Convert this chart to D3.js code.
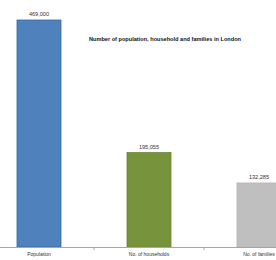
<!DOCTYPE html>
<html>
<head>
<meta charset="utf-8">
<script src="https://cdn.jsdelivr.net/npm/d3@7.9.0/dist/d3.min.js"></script>
<style>
  body { margin: 0; background: #fff; }
  svg { display: block; font-family: "Liberation Sans", Arial, sans-serif; }
</style>
</head>
<body>
<svg id="chart" width="276" height="260"></svg>
<script>
// chart data
const categories = ["Population", "No. of households", "No. of families"];
const values = [469000, 195055, 132285];
const barColors = ["#4f81bd", "#77933c", "#bfbfbf"];
const strokeColors = ["#3a679c", "#6a8434", "#b3b3b3"];
const title = "Number of population, household and families in London";

const svg = d3.select("#chart");
const baseY = 247;

// the original chart is cropped: the bands run past both edges
let x = d3.scaleBand()
    .domain(categories)
    .range([-16, 314])
    .paddingInner(0.6)
    .paddingOuter(0.3);

let y = d3.scaleLinear()
    .domain([0, 500000])
    .range([baseY, 5]);

// bars
svg.selectAll("rect.bar")
    .data(values)
    .enter()
    .append("rect")
    .attr("class", "bar")
    .attr("x", (d, i) => x(categories[i]))
    .attr("y", (d) => y(d))
    .attr("width", x.bandwidth())
    .attr("height", (d) => baseY - y(d))
    .attr("fill", (d, i) => barColors[i])
    .attr("stroke", (d, i) => strokeColors[i])
    .attr("stroke-width", 0.8);

// value labels
svg.selectAll("text.value")
    .data(values)
    .enter()
    .append("text")
    .attr("class", "value")
    .attr("x", (d, i) => x(categories[i]) + x.bandwidth() / 2)
    .attr("y", (d) => y(d) - 4)
    .attr("text-anchor", "middle")
    .attr("font-size", 5.6)
    .attr("fill", "#333")
    .text((d) => d3.format(",")(d));

// x axis line, ticks between categories
svg.append("line")
    .attr("x1", 0).attr("x2", 276)
    .attr("y1", baseY + 0.5).attr("y2", baseY + 0.5)
    .attr("stroke", "#a6a6a6")
    .attr("stroke-width", 1);

let step = x.step();
svg.selectAll("line.tick")
    .data(categories.slice(1))
    .enter()
    .append("line")
    .attr("class", "tick")
    .attr("x1", (d) => x(d) - step * x.paddingInner() / 2)
    .attr("x2", (d) => x(d) - step * x.paddingInner() / 2)
    .attr("y1", baseY)
    .attr("y2", baseY + 3)
    .attr("stroke", "#a6a6a6");

svg.selectAll("text.cat")
    .data(categories)
    .enter()
    .append("text")
    .attr("class", "cat")
    .attr("x", (d) => x(d) + x.bandwidth() / 2)
    .attr("y", baseY + 9)
    .attr("text-anchor", "middle")
    .attr("font-size", 5)
    .attr("fill", "#333")
    .text((d) => d);

// title
svg.append("text")
    .attr("x", 165)
    .attr("y", 41)
    .attr("text-anchor", "middle")
    .attr("font-size", 5.6)
    .attr("font-weight", "bold")
    .attr("fill", "#111")
    .text(title);
</script>
</body>
</html>
